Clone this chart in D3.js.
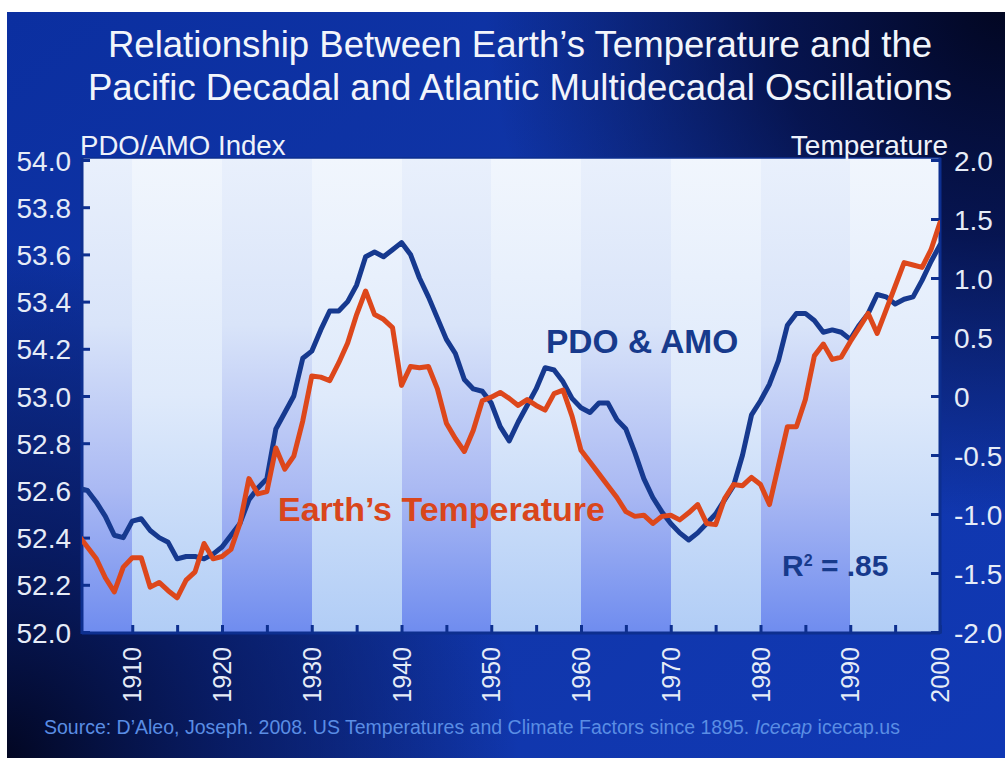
<!DOCTYPE html>
<html>
<head>
<meta charset="utf-8">
<script src="https://cdn.jsdelivr.net/npm/d3@7"></script>
<style>
  html, body { margin: 0; padding: 0; background: #ffffff; }
  svg { display: block; }
</style>
</head>
<body>
<svg id="chart" width="1005" height="762"></svg>
<script>
// ---------------- DATA ----------------
const years = d3.range(1904, 2001);

// PDO & AMO index (left axis units)
const pdoAmo = [
  52.61, 52.60, 52.55, 52.49, 52.41, 52.40, 52.47, 52.48, 52.43, 52.40,
  52.38, 52.31, 52.32, 52.32, 52.31, 52.33, 52.36, 52.41, 52.46, 52.56,
  52.61, 52.65, 52.86, 52.93, 53.00, 53.16, 53.19, 53.28, 53.36, 53.36,
  53.40, 53.47, 53.59, 53.61, 53.59, 53.62, 53.65, 53.60, 53.50, 53.42,
  53.33, 53.24, 53.18, 53.07, 53.03, 53.02, 52.97, 52.87, 52.81, 52.89,
  52.96, 53.03, 53.12, 53.11, 53.06, 52.99, 52.95, 52.93, 52.97, 52.97,
  52.90, 52.86, 52.76, 52.65, 52.57, 52.51, 52.46, 52.42, 52.39, 52.42,
  52.46, 52.50, 52.56, 52.62, 52.75, 52.92, 52.98, 53.05, 53.15, 53.30,
  53.35, 53.35, 53.32, 53.27, 53.28, 53.27, 53.24, 53.30, 53.35, 53.43,
  53.42, 53.39, 53.41, 53.42, 53.49, 53.57, 53.64
];

// Earth's temperature (right axis units)
const temperature = [
  -1.18, -1.28, -1.38, -1.54, -1.66, -1.45, -1.37, -1.37, -1.62, -1.58,
  -1.65, -1.71, -1.56, -1.49, -1.25, -1.38, -1.36, -1.30, -1.08, -0.70,
  -0.83, -0.81, -0.44, -0.62, -0.51, -0.21, 0.17, 0.16, 0.13, 0.28,
  0.45, 0.69, 0.89, 0.69, 0.65, 0.58, 0.09, 0.25, 0.24, 0.25,
  0.06, -0.23, -0.36, -0.47, -0.29, -0.04, -0.01, 0.03, -0.02, -0.08,
  -0.03, -0.08, -0.12, 0.02, 0.05, -0.17, -0.46, -0.56, -0.66, -0.76,
  -0.86, -0.98, -1.02, -1.01, -1.08, -1.02, -1.01, -1.05, -0.99, -0.92,
  -1.08, -1.09, -0.87, -0.75, -0.76, -0.69, -0.75, -0.92, -0.59, -0.26,
  -0.26, -0.03, 0.34, 0.44, 0.31, 0.33, 0.46, 0.58, 0.70, 0.53,
  0.73, 0.93, 1.13, 1.11, 1.09, 1.24, 1.47
];

const xTickYears = [1910, 1920, 1930, 1940, 1950, 1960, 1970, 1980, 1990, 2000];
const leftTickValues = [52.0, 52.2, 52.4, 52.6, 52.8, 53.0, 53.2, 53.4, 53.6, 53.8, 54.0];
const leftTickLabels = ["52.0", "52.2", "52.4", "52.6", "52.8", "53.0", "54.2", "53.4", "53.6", "53.8", "54.0"];
const rightTickValues = [-2.0, -1.5, -1.0, -0.5, 0, 0.5, 1.0, 1.5, 2.0];
const rightTickLabels = ["-2.0", "-1.5", "-1.0", "-0.5", "0", "0.5", "1.0", "1.5", "2.0"];
const bandEdges = [1900, 1910, 1920, 1930, 1940, 1950, 1960, 1970, 1980, 1990, 2000];

const titleLines = [
  "Relationship Between Earth\u2019s Temperature and the",
  "Pacific Decadal and Atlantic Multidecadal Oscillations"
];
const leftAxisTitle = "PDO/AMO Index";
const rightAxisTitle = "Temperature";
const pdoLabel = "PDO & AMO";
const tempLabel = "Earth\u2019s Temperature";

// ---------------- LAYOUT ----------------
const svg = d3.select("#chart");
const W = 1005, H = 762;
const plot = { left: 82, right: 940, top: 158, bottom: 633 };

const x = d3.scaleLinear().domain([1904.4, 2000]).range([plot.left, plot.right]);
const yL = d3.scaleLinear().domain([52, 54]).range([632, 160]);
const yR = d3.scaleLinear().domain([-2, 2]).range([632, 160]);

const defs = svg.append("defs");

// background gradients
const bg = defs.append("linearGradient").attr("id", "bgLin")
  .attr("x1", "0").attr("y1", "0").attr("x2", "1").attr("y2", "1");
bg.append("stop").attr("offset", "0").attr("stop-color", "#0b2fa0");
bg.append("stop").attr("offset", "0.5").attr("stop-color", "#1136a8");
bg.append("stop").attr("offset", "1").attr("stop-color", "#1038b4");

const rTR = defs.append("radialGradient").attr("id", "darkTR")
  .attr("gradientUnits", "userSpaceOnUse").attr("cx", 1005).attr("cy", 0).attr("r", 520);
rTR.append("stop").attr("offset", "0").attr("stop-color", "#020620").attr("stop-opacity", 1);
rTR.append("stop").attr("offset", "0.45").attr("stop-color", "#040c3a").attr("stop-opacity", 0.8);
rTR.append("stop").attr("offset", "1").attr("stop-color", "#06103f").attr("stop-opacity", 0);

const rBL = defs.append("radialGradient").attr("id", "darkBL")
  .attr("gradientUnits", "userSpaceOnUse").attr("cx", 0).attr("cy", 762).attr("r", 520);
rBL.append("stop").attr("offset", "0").attr("stop-color", "#020620").attr("stop-opacity", 1);
rBL.append("stop").attr("offset", "0.45").attr("stop-color", "#061450").attr("stop-opacity", 0.75);
rBL.append("stop").attr("offset", "1").attr("stop-color", "#06103f").attr("stop-opacity", 0);

// band gradients
const gDark = defs.append("linearGradient").attr("id", "bandDark")
  .attr("gradientUnits", "userSpaceOnUse")
  .attr("x1", 0).attr("y1", plot.top).attr("x2", 0).attr("y2", plot.bottom);
gDark.append("stop").attr("offset", "0").attr("stop-color", "#e9f0fc");
gDark.append("stop").attr("offset", "0.35").attr("stop-color", "#d9e4f9");
gDark.append("stop").attr("offset", "0.7").attr("stop-color", "#aab9f3");
gDark.append("stop").attr("offset", "1").attr("stop-color", "#6f8cef");

const gLight = defs.append("linearGradient").attr("id", "bandLight")
  .attr("gradientUnits", "userSpaceOnUse")
  .attr("x1", 0).attr("y1", plot.top).attr("x2", 0).attr("y2", plot.bottom);
gLight.append("stop").attr("offset", "0").attr("stop-color", "#f1f6fd");
gLight.append("stop").attr("offset", "0.5").attr("stop-color", "#dfeafb");
gLight.append("stop").attr("offset", "1").attr("stop-color", "#b1cdf6");

defs.append("clipPath").attr("id", "plotClip")
  .append("rect")
  .attr("x", plot.left).attr("y", plot.top)
  .attr("width", plot.right - plot.left).attr("height", plot.bottom - plot.top);

// background
const bgx = 7, bgy = 12, bgw = W - 7, bgh = 746;
svg.append("rect").attr("x", bgx).attr("y", bgy).attr("width", bgw).attr("height", bgh).attr("fill", "url(#bgLin)");
svg.append("rect").attr("x", bgx).attr("y", bgy).attr("width", bgw).attr("height", bgh).attr("fill", "url(#darkTR)");
svg.append("rect").attr("x", bgx).attr("y", bgy).attr("width", bgw).attr("height", bgh).attr("fill", "url(#darkBL)");

// bands: one solid light base, then dark bands over it
svg.append("rect")
  .attr("x", plot.left).attr("y", plot.top)
  .attr("width", plot.right - plot.left).attr("height", plot.bottom - plot.top)
  .attr("fill", "url(#bandLight)");
const bands = d3.pairs(bandEdges).map((p, i) => ({ a: Math.max(p[0], x.domain()[0]), b: p[1], dark: i % 2 === 0 }))
  .filter(d => d.dark);
svg.append("g").selectAll("rect").data(bands).join("rect")
  .attr("x", d => x(d.a))
  .attr("y", plot.top)
  .attr("width", d => x(d.b) - x(d.a))
  .attr("height", plot.bottom - plot.top)
  .attr("shape-rendering", "crispEdges")
  .attr("fill", "url(#bandDark)");

// frame
const axisColor = "#0d2f8f";
svg.append("rect")
  .attr("x", plot.left).attr("y", plot.top)
  .attr("width", plot.right - plot.left).attr("height", plot.bottom - plot.top)
  .attr("fill", "none").attr("stroke", axisColor).attr("stroke-width", 1.5);
svg.append("line").attr("x1", plot.left).attr("x2", plot.left).attr("y1", plot.top).attr("y2", plot.bottom + 1)
  .attr("stroke", axisColor).attr("stroke-width", 3);
svg.append("line").attr("x1", plot.left).attr("x2", plot.right).attr("y1", plot.bottom).attr("y2", plot.bottom)
  .attr("stroke", axisColor).attr("stroke-width", 3);
svg.append("line").attr("x1", plot.right).attr("x2", plot.right).attr("y1", plot.top).attr("y2", plot.bottom + 1)
  .attr("stroke", axisColor).attr("stroke-width", 3);

// axes with inward ticks
const leftAxis = d3.axisLeft(yL).tickValues(leftTickValues)
  .tickSize(-8).tickPadding(11)
  .tickFormat((d, i) => leftTickLabels[i]);
const gl = svg.append("g").attr("transform", `translate(${plot.left},0)`).call(leftAxis);

const rightAxis = d3.axisRight(yR).tickValues(rightTickValues)
  .tickSize(-9).tickPadding(14)
  .tickFormat((d, i) => rightTickLabels[i]);
const gr = svg.append("g").attr("transform", `translate(${plot.right},0)`).call(rightAxis);

const minorYears = d3.range(1910, 2001, 5);
const bottomAxis = d3.axisBottom(x).tickValues(minorYears).tickSize(-8).tickFormat("");
const gb = svg.append("g").attr("transform", `translate(0,${plot.bottom})`).call(bottomAxis);

[gl, gr, gb].forEach(g => {
  g.select(".domain").remove();
  g.selectAll(".tick line").attr("stroke", axisColor).attr("stroke-width", 3);
});
[gl, gr].forEach(g => {
  g.selectAll(".tick text")
    .attr("fill", "#e6ecf7")
    .attr("dy", "0.36em")
    .style("font-family", "'Liberation Sans', Arial, sans-serif")
    .style("font-size", "28px");
});

// x labels, rotated
svg.append("g").selectAll("text").data(xTickYears).join("text")
  .attr("transform", d => `translate(${x(d) + 9},${plot.bottom + 14}) rotate(-90)`)
  .attr("text-anchor", "end")
  .attr("fill", "#e6ecf7")
  .style("font-family", "'Liberation Sans', Arial, sans-serif")
  .style("font-size", "25px")
  .text(d => d);

// lines
const lineG = svg.append("g").attr("clip-path", "url(#plotClip)");
const pdoLine = d3.line().x((d, i) => x(years[i])).y(d => yL(d));
const tempLine = d3.line().x((d, i) => x(years[i])).y(d => yR(d));

lineG.append("path").datum(pdoAmo).attr("d", pdoLine)
  .attr("fill", "none").attr("stroke", "#16398f").attr("stroke-width", 5)
  .attr("stroke-linejoin", "round").attr("stroke-linecap", "round");
lineG.append("path").datum(temperature).attr("d", tempLine)
  .attr("fill", "none").attr("stroke", "#dd471b").attr("stroke-width", 5)
  .attr("stroke-linejoin", "round").attr("stroke-linecap", "round");

// titles
const font = "'Liberation Sans', Arial, sans-serif";
svg.append("g").selectAll("text").data(titleLines).join("text")
  .attr("x", 520).attr("y", (d, i) => 57 + i * 43)
  .attr("text-anchor", "middle")
  .attr("fill", "#f2f5fb")
  .style("font-family", font).style("font-size", "36.6px")
  .text(d => d);

svg.append("text").attr("x", 80).attr("y", 155)
  .attr("fill", "#eef2fa").style("font-family", font).style("font-size", "27.6px")
  .text(leftAxisTitle);
svg.append("text").attr("x", 948).attr("y", 155).attr("text-anchor", "end")
  .attr("fill", "#eef2fa").style("font-family", font).style("font-size", "28px")
  .text(rightAxisTitle);

// in-plot labels
svg.append("text").attr("x", 546).attr("y", 353)
  .attr("fill", "#173a8c").style("font-family", font).style("font-size", "33.5px").style("font-weight", "bold")
  .text(pdoLabel);
svg.append("text").attr("x", 278).attr("y", 521)
  .attr("fill", "#d9461c").style("font-family", font).style("font-size", "34px").style("font-weight", "bold")
  .text(tempLabel);
const r2 = svg.append("text").attr("x", 782).attr("y", 576)
  .attr("fill", "#173a8c").style("font-family", font).style("font-size", "30px").style("font-weight", "bold");
r2.append("tspan").text("R");
r2.append("tspan").attr("dy", -10).style("font-size", "16px").text("2");
r2.append("tspan").attr("dy", 10).text(" = .85");

// source
const src = svg.append("text").attr("x", 44).attr("y", 734)
  .attr("fill", "#5a8de4").style("font-family", font).style("font-size", "19.5px");
src.append("tspan").text("Source: D\u2019Aleo, Joseph. 2008. US Temperatures and Climate Factors since 1895. ");
src.append("tspan").style("font-style", "italic").text("Icecap");
src.append("tspan").text("  icecap.us");
</script>
</body>
</html>
